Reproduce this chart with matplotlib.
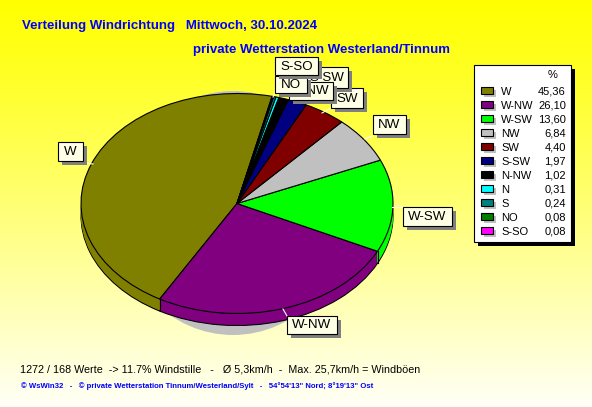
import numpy as np
import matplotlib
matplotlib.use('Agg')
import matplotlib.pyplot as plt
from matplotlib.patches import Rectangle, Ellipse

plt.rcParams['font.family'] = ['Liberation Sans', 'DejaVu Sans']

# data
directions = ['W', 'W-NW', 'W-SW', 'NW', 'SW', 'S-SW', 'N-NW', 'N', 'S', 'NO', 'S-SO']
percent = [45.36, 26.10, 13.60, 6.84, 4.40, 1.97, 1.02, 0.31, 0.24, 0.08, 0.08]
percent_labels = ['45,36', '26,10', '13,60', '6,84', '4,40', '1,97', '1,02', '0,31', '0,24', '0,08', '0,08']
colors = ['#808000', '#800080', '#00ff00', '#c0c0c0', '#800000', '#000080',
          '#000000', '#00ffff', '#008080', '#008000', '#ff00ff']

title1 = 'Verteilung Windrichtung   Mittwoch, 30.10.2024'
title2 = 'private Wetterstation Westerland/Tinnum'
footer1 = '1272 / 168 Werte  -> 11.7% Windstille   -   Ø 5,3km/h  -  Max. 25,7km/h = Windböen'
footer2 = '© WsWin32   -   © private Wetterstation Tinnum/Westerland/Sylt   -   54°54\'13" Nord; 8°19\'13" Ost'

W, H = 592, 407
CX, CY, RX, RY = 237, 203.5, 156, 110
DEPTH = 12
START = 77

fig = plt.figure(figsize=(W / 100, H / 100), dpi=100)

# background gradient
bg = fig.add_axes([0, 0, 1, 1], zorder=0)
t = np.linspace(0, 1, H)
grad = np.ones((H, 1, 3))
grad[:, 0, 2] = t ** 1.1 * 0.97
bg.imshow(grad, aspect='auto', extent=(0, W, H, 0))
bg.axis('off')
bg.add_patch(Ellipse((233, 213), 230, 244, fc='#c0c0c0', ec='none'))

# pie, one unit = radius, squashed to an ellipse by the limits
ax = fig.add_axes([0, 0, 1, 1], zorder=1)
for d in range(DEPTH, -1, -1):
    edge = 'black' if d in (0, DEPTH) else 'none'
    ax.pie(percent, colors=colors, startangle=START, counterclock=True, radius=1,
           center=(0, -d / RY), normalize=True,
           wedgeprops={'edgecolor': edge, 'linewidth': 0.8})
    if d == DEPTH:
        # vertical seams of the side wall
        ang = np.radians(START + np.cumsum(percent) * 3.6)
        for a in ang:
            if np.sin(a) < 0:
                ax.plot([np.cos(a)] * 2, [np.sin(a), np.sin(a) - DEPTH / RY],
                        color='black', lw=0.8, zorder=50)
ax.set_aspect('auto')
ax.set_xlim(-CX / RX, (W - CX) / RX)
ax.set_ylim(-(H - CY) / RY, CY / RY)
ax.axis('off')

# overlay in pixel coordinates
ov = fig.add_axes([0, 0, 1, 1], zorder=2)
ov.set_xlim(0, W)
ov.set_ylim(H, 0)
ov.axis('off')
ov.patch.set_alpha(0)

ov.text(22, 26, title1, color='#0000ff', fontsize=9.5, fontweight='bold', va='center')
ov.text(193, 50, title2, color='#0000ff', fontsize=9.5, fontweight='bold', va='center')
ov.text(20, 369, footer1, color='black', fontsize=7.75, va='center')
ov.text(21, 386, footer2, color='#0000ff', fontsize=5.55, fontweight='bold', va='center')

# labels on the pie: box left, top, right, bottom, leader line ends
boxes = [
    ('NW', 373, 115, 406, 134, (372, 136), (365, 139)),
    ('SW', 331, 88, 363, 108, (331, 108), (322, 113)),
    ('S-SW', 305, 67, 348, 88, None, None),
    ('N-NW', 289, 82, 333, 100, None, None),
    ('NO', 275, 76, 307, 93, (275, 93), (273, 97)),
    ('S-SO', 275, 57, 318, 75, None, None),
    ('W', 58, 142, 83, 161, (84, 163), (93, 164)),
    ('W-NW', 287, 316, 337, 334, (287, 316), (283, 309)),
    ('W-SW', 403, 207, 452, 226, (403, 207), (392, 207)),
]
for i, (name, x0, y0, x1, y1, p0, p1) in enumerate(boxes):
    z = 10 + i * 2
    if p0 is not None:
        ov.plot([p0[0], p1[0]], [p0[1], p1[1]], color='white', lw=0.8, zorder=5)
    ov.add_patch(Rectangle((x0 + 4, y0 + 4), x1 - x0, y1 - y0, fc='#808080', ec='none', zorder=z))
    ov.add_patch(Rectangle((x0, y0), x1 - x0, y1 - y0, fc='#ffffe6', ec='black', lw=0.8, zorder=z))
    ov.text((x0 + x1) / 2, (y0 + y1) / 2 + 0.5, name, fontsize=9.6, ha='center', va='center', zorder=z + 1)

# legend
ov.add_patch(Rectangle((478, 69), 97, 177, fc='black', ec='none', zorder=30))
ov.add_patch(Rectangle((474, 65), 97, 177, fc='white', ec='black', lw=0.8, zorder=31))
ov.text(553, 75, '%', fontsize=8, ha='center', va='center', zorder=32)
for i, name in enumerate(directions):
    y = 91 + i * 14
    ov.add_patch(Rectangle((484, y - 1), 12, 7, fc='#c0c0c0', ec='none', zorder=32))
    ov.add_patch(Rectangle((481, y - 4), 12, 7, fc=colors[i], ec='black', lw=0.8, zorder=33))
    ov.text(501, y + 1, name, fontsize=8, va='center', zorder=33)
    ov.text(566, y + 1, percent_labels[i], fontsize=8, ha='right', va='center', zorder=33)

fig.savefig('out.png', dpi=100)
